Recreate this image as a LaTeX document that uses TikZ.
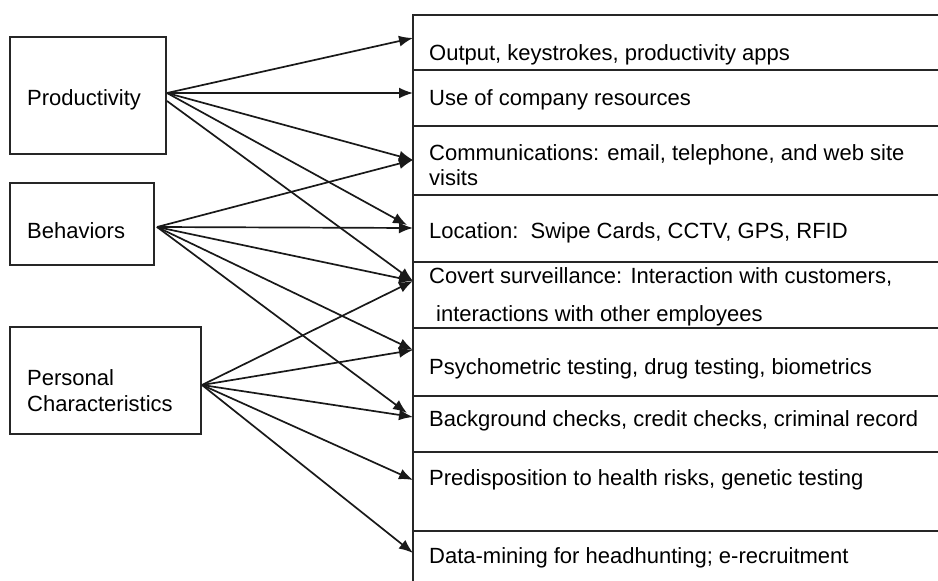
\documentclass[tikz,border=0pt]{standalone}
\usepackage{fontspec}
\setmainfont{Liberation Sans}
\usetikzlibrary{arrows.meta}
\begin{document}
\begin{tikzpicture}[x=1pt,y=-1pt,
  boxline/.style={line width=1.7pt, draw=black!85},
  lbl/.style={anchor=base west, inner sep=0pt, font=\fontsize{22}{26}\selectfont, text=black},
  conn/.style={line width=1.7pt, draw=black!90, -{Latex[length=14pt,width=11pt]}}
]
\useasboundingbox (0,0) rectangle (938,581);

% left boxes
\node[boxline, draw, minimum width=156pt, minimum height=117pt, inner sep=0pt] (prodbox) at (88,95.5) {};
\node[boxline, draw, minimum width=144pt, minimum height=82pt, inner sep=0pt] (behbox) at (82,224) {};
\node[boxline, draw, minimum width=191pt, minimum height=107pt, inner sep=0pt] (persbox) at (105.5,380.5) {};

\node[lbl] (prodtxt) at (27,105) {Productivity};
\node[lbl] (behtxt) at (27,238) {Behaviors};
\node[lbl] (perstxt1) at (27,385) {Personal};
\node[lbl] (perstxt2) at (27,411) {Characteristics};

% right column frame
\draw[boxline] (938,15) -- (413,15) -- (413,581);
\foreach \yy in {70,126,195,262,328,396,452,531}
  \draw[boxline] (413,\yy) -- (938,\yy);

% right labels
\node[lbl] (out) at (429,60) {Output, keystrokes, productivity apps};
\node[lbl] (use) at (429,105) {Use of company resources};
\node[lbl] (com1) at (429,160) {Communications: email, telephone, and web site};
\node[lbl] (com2) at (429,185) {visits};
\node[lbl] (loc) at (429,238) {Location:\ \ Swipe Cards, CCTV, GPS, RFID};
\node[lbl] (cov1) at (429,283) {Covert surveillance: Interaction with customers,};
\node[lbl] (cov2) at (436,321) {interactions with other employees};
\node[lbl] (psy) at (429,374) {Psychometric testing, drug testing, biometrics};
\node[lbl] (bck) at (429,426) {Background checks, credit checks, criminal record};
\node[lbl] (pre) at (429,485) {Predisposition to health risks, genetic testing};
\node[lbl] (dat) at (429,563) {Data-mining for headhunting; e-recruitment};

% source points
\coordinate (sP) at (167,93);
\coordinate (sP2) at (167,101);
\coordinate (sB) at (157,227);
\coordinate (sC) at (202,385);

% target points
\coordinate (tOut) at (413,38);
\coordinate (tUse) at (413,93);
\coordinate (tCom) at (413,160);
\coordinate (tLoc) at (413,228);
\coordinate (tLocA) at (407,225);
\coordinate (tCov) at (413,281);
\coordinate (tPsy) at (413,350);
\coordinate (tBck) at (413,417);
\coordinate (tBckA) at (407,413);
\coordinate (tPre) at (413,480);
\coordinate (tDat) at (413,553);

% Productivity
\draw[conn] (sP) -- (tOut);
\draw[conn] (sP) -- (tUse);
\draw[conn] (sP) -- (tCom);
\draw[conn] (sP) -- (tLocA);
\draw[conn] (sP2) -- (tCov);
% Behaviors
\draw[conn] (sB) -- (tCom);
\draw[conn] (sB) -- (tLoc);
\draw[conn] (sB) -- (tCov);
\draw[conn] (sB) -- (tPsy);
\draw[conn] (sB) -- (tBckA);
% Personal Characteristics
\draw[conn] (sC) -- (tCov);
\draw[conn] (sC) -- (tPsy);
\draw[conn] (sC) -- (tBck);
\draw[conn] (sC) -- (tPre);
\draw[conn] (sC) -- (tDat);
\end{tikzpicture}
\end{document}
